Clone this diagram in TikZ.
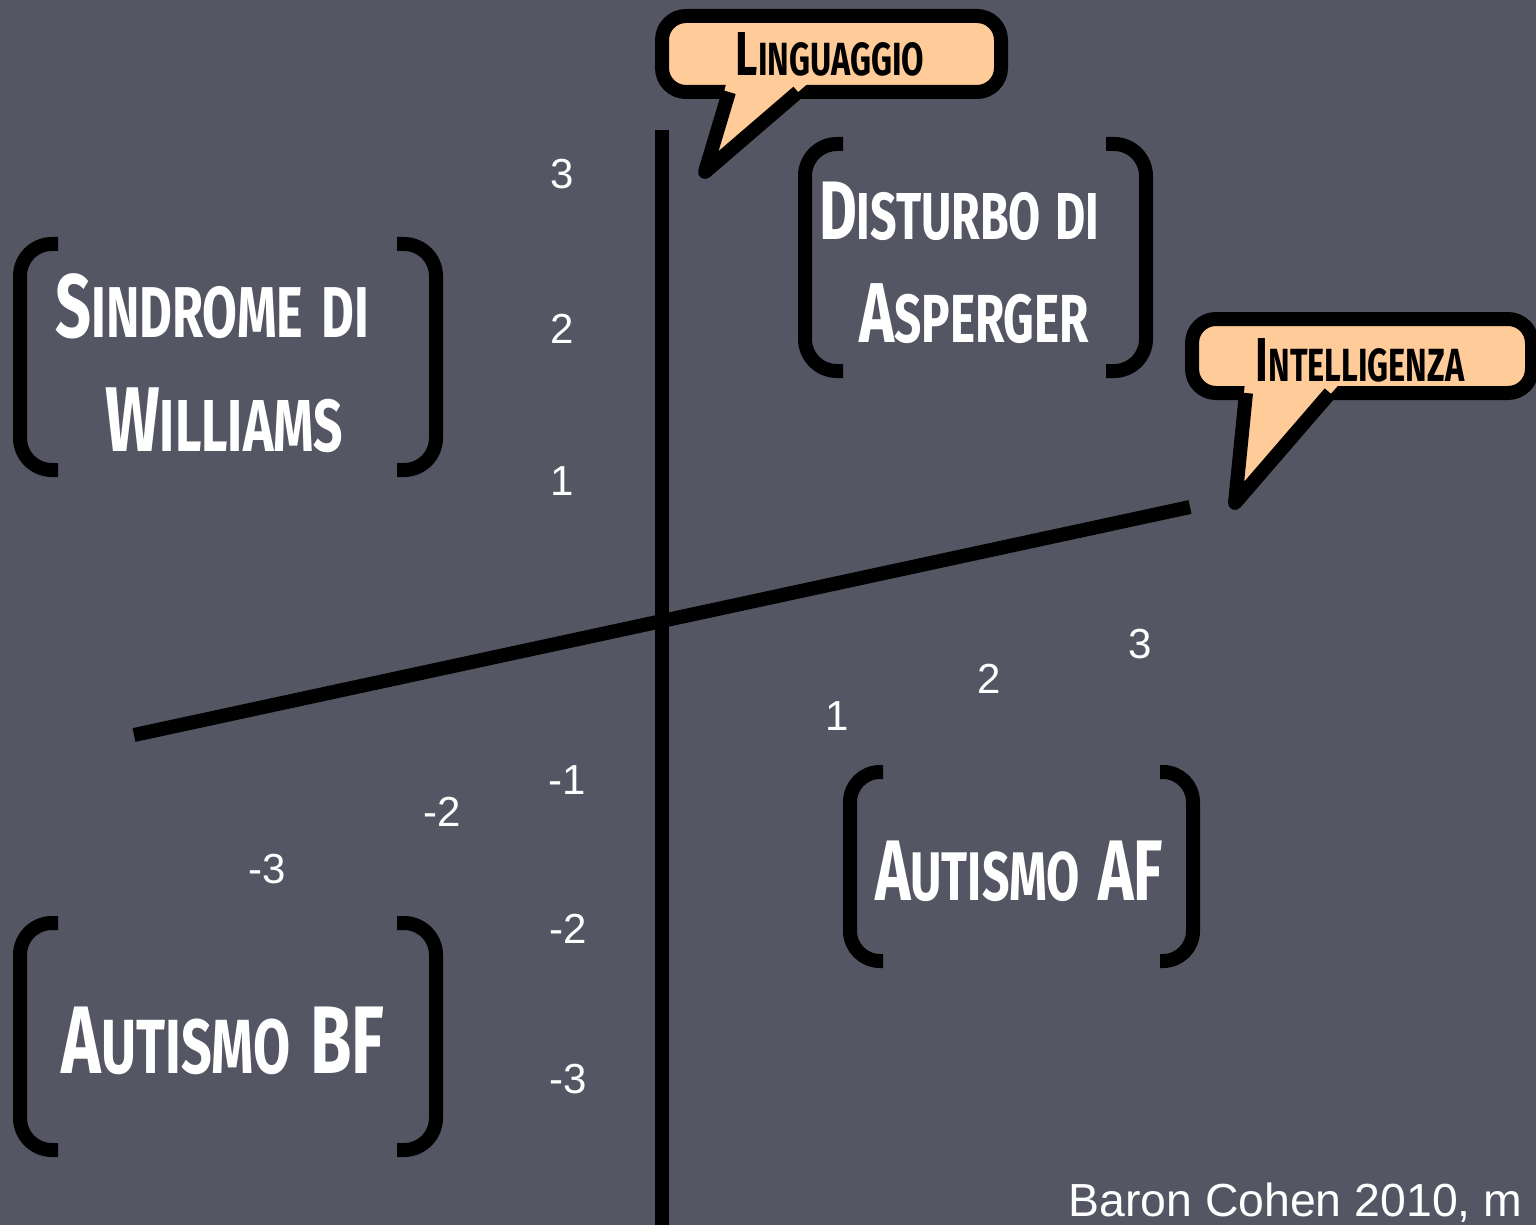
\documentclass[tikz,border=0pt]{standalone}
\usepackage{fontspec}
\usepackage{graphicx}
\newfontfamily\hand[FakeStretch=0.7]{Fira Sans}
\newfontfamily\arial{Liberation Sans}
\definecolor{bg}{RGB}{84,86,100}
\definecolor{peach}{RGB}{255,204,153}
\newcommand\sk[1]{\scalebox{0.8}{#1}}
\newcommand\skb[1]{\scalebox{0.75}{#1}}
\tikzset{
  brk/.style={line width=7pt, draw=black},
  bub/.style={line width=7pt, draw=black, fill=peach, rounded corners=12pt},
  tailfill/.style={fill=peach},
  tailline/.style={line width=7pt, draw=black, line join=round},
  lab/.style={text=white, font=\hand\bfseries\fontsize{#1}{#1}\selectfont, inner sep=0pt, anchor=base},
  lab/.default=44,
  blab/.style={text=black, font=\hand\bfseries\fontsize{31}{33}\selectfont, inner sep=0pt, anchor=base},
  num/.style={text=white, font=\arial\fontsize{21}{24}\selectfont, inner sep=0pt},
  axisline/.style={line width=7pt, draw=black},
}
\begin{document}
\begin{tikzpicture}[x=0.5pt,y=-0.5pt]
\useasboundingbox (0,0) rectangle (1536,1225);
\fill[bg] (0,0) rectangle (1536,1225);
\clip (0,0) rectangle (1536,1225);

% axes
\coordinate (vtop) at (662,130);
\coordinate (vbot) at (662,1230);
\draw[axisline] (vtop) -- (vbot);
\coordinate (oa) at (134,735);
\coordinate (ob) at (1190,507);
\draw[axisline] (oa) -- (ob);

% Linguaggio bubble
\draw[bub] (662,16) rectangle (1001,92);
\coordinate (lt1) at (729,92);
\coordinate (ltip) at (705,172);
\coordinate (lt2) at (798,92);
\fill[tailfill] (727,80) -- (ltip) -- (812,80) -- cycle;
\draw[tailline] (lt1) -- (ltip) -- (lt2);

% Intelligenza bubble
\draw[bub] (1192,319) rectangle (1532,393);
\coordinate (it1) at (1246,393);
\coordinate (itip) at (1235,503);
\coordinate (it2) at (1330,393);
\fill[tailfill] (1245,381) -- (itip) -- (1342,381) -- cycle;
\draw[tailline] (it1) -- (itip) -- (it2);

% brackets: Williams
\draw[brk, rounded corners=16pt] (58,244) -- (20,244) -- (20,470) -- (58,470);
\draw[brk, rounded corners=16pt] (397,244) -- (436,244) -- (436,470) -- (397,470);
% Asperger
\draw[brk, rounded corners=16pt] (843,144) -- (805,144) -- (805,371) -- (843,371);
\draw[brk, rounded corners=16pt] (1106,144) -- (1146,144) -- (1146,371) -- (1106,371);
% Autismo AF
\draw[brk, rounded corners=15pt] (883,772) -- (850,772) -- (850,961) -- (883,961);
\draw[brk, rounded corners=15pt] (1160,772) -- (1193,772) -- (1193,961) -- (1160,961);
% Autismo BF
\draw[brk, rounded corners=16pt] (58,923) -- (20,923) -- (20,1150) -- (58,1150);
\draw[brk, rounded corners=16pt] (397,923) -- (436,923) -- (436,1150) -- (397,1150);

% labels
\node[lab=45] (sind) at (212,337) {S\sk{INDROME}\hspace{9pt}\sk{DI}};
\node[lab=46] (will) at (224,451) {W\sk{ILLIAMS}};
\node[lab=41.5] (dist) at (959,240) {D\sk{ISTURBO}\hspace{7pt}\sk{DI}};
\node[lab=42.5] (asp) at (974,343) {A\sk{SPERGER}};
\node[lab=43] (af) at (1019,900) {A\sk{UTISMO}\hspace{2pt} AF};
\node[lab=48] (bf) at (223,1073) {A\sk{UTISMO}\hspace{2pt} BF};
\node[blab] (ling) at (830,76) {L\skb{INGUAGGIO}};
\node[blab] (intl) at (1360,381) {I\skb{NTELLIGENZA}};

% axis numbers
\node[num] (v3) at (562,174) {3};
\node[num] (v2) at (562,329) {2};
\node[num] (v1) at (562,481) {1};
\node[num] (vm1) at (567,780) {-1};
\node[num] (vm2) at (568,929) {-2};
\node[num] (vm3) at (568,1079) {-3};
\node[num] (o1) at (837,716) {1};
\node[num] (o2) at (989,679) {2};
\node[num] (o3) at (1140,644) {3};
\node[num] (om2) at (442,812) {-2};
\node[num] (om3) at (267,869) {-3};

\node[num, font=\arial\fontsize{23.2}{27}\selectfont, anchor=base west] (ref) at (1068,1216) {Baron Cohen 2010, m};
\end{tikzpicture}
\end{document}
